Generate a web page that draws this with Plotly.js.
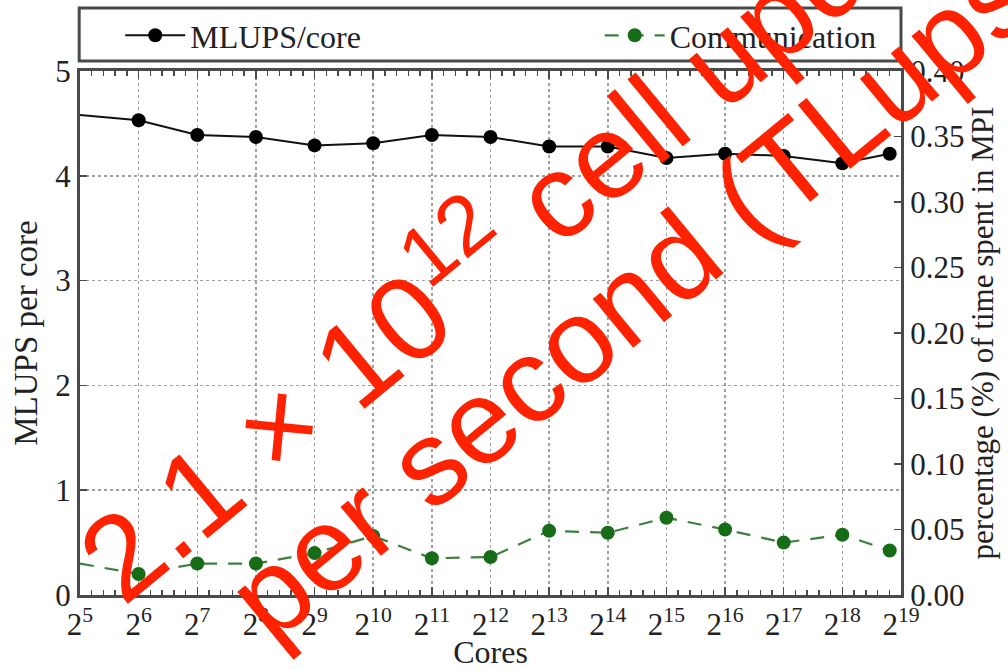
<!DOCTYPE html>
<html>
<head>
<meta charset="utf-8">
<script src="https://cdn.plot.ly/plotly-3.0.1.min.js"></script>
<style>
  html, body { margin: 0; padding: 0; background: #ffffff; }
  #chart { width: 1008px; height: 670px; }
</style>
</head>
<body>
<div id="chart"></div>
<script>
// Weak-scaling run: cores used (the last run is the full machine, 458,752 cores)
const cores = [32, 64, 128, 256, 512, 1024, 2048, 4096, 8192, 16384, 32768, 65536, 131072, 262144, 458752];
// Million lattice updates per second per core (left axis)
const mlupsPerCore = [4.58, 4.53, 4.39, 4.37, 4.29, 4.31, 4.39, 4.37, 4.28, 4.28, 4.17, 4.21, 4.19, 4.12, 4.21];
// Fraction of run time spent in MPI communication (right axis)
const commShare = [0.024, 0.016, 0.024, 0.024, 0.032, 0.045, 0.028, 0.029, 0.049, 0.0475, 0.059, 0.050, 0.040, 0.046, 0.034];
// x-axis tick exponents (powers of two)
const tickExponents = [5, 6, 7, 8, 9, 10, 11, 12, 13, 14, 15, 16, 17, 18, 19];

const seriesNames = ['MLUPS/core', 'Communication'];
const axisTitles = { x: 'Cores', y: 'MLUPS per core', y2: 'percentage (%) of time spent in MPI' };
const overlayLines = ['2.1 × 10<sup>12</sup> cell updates', 'per second (TLups)'];

const serif = 'Liberation Serif, Times New Roman, serif';
const sans = 'Liberation Sans, Arial, sans-serif';
const ink = '#222222';
const frame = '#4a4a4a';

const tickVals = tickExponents.map(e => Math.pow(2, e));
const tickText = tickExponents.map(e => '2<sup>' + e + '</sup>');
// minor ticks every fifth of an octave
const minorVals = [];
for (let e = tickExponents[0]; e < tickExponents[tickExponents.length - 1]; e++) {
  for (let k = 1; k < 5; k++) minorVals.push(Math.pow(2, e + k / 5));
}

const traces = [
  {
    x: cores, y: mlupsPerCore, name: seriesNames[0], yaxis: 'y', legend: 'legend',
    mode: 'lines+markers',
    line: { color: '#111111', width: 2 },
    marker: { color: '#000000', size: 14 },
    cliponaxis: false
  },
  {
    x: cores, y: commShare, name: seriesNames[1], yaxis: 'y2', legend: 'legend2',
    mode: 'lines+markers',
    line: { color: '#3d803d', width: 2.2, dash: '14px,11px' },
    marker: { color: '#176c17', size: 14 },
    cliponaxis: false
  }
];

// legends sit in the framed strip above the axes, positioned on the page
const legendBase = {
  orientation: 'h', yref: 'container', y: 0.947, yanchor: 'middle', xanchor: 'left',
  bgcolor: 'rgba(0,0,0,0)', borderwidth: 0,
  font: { family: serif, size: 32, color: ink },
  itemwidth: 60, itemclick: false, itemdoubleclick: false
};

const layout = {
  width: 1008, height: 670,
  margin: { l: 80, r: 107, t: 71, b: 75 },
  paper_bgcolor: '#ffffff', plot_bgcolor: '#ffffff',
  font: { family: serif, size: 30, color: ink },
  showlegend: true,
  legend: Object.assign({}, legendBase, { x: 0.049 }),
  legend2: Object.assign({}, legendBase, { x: 0.633 }),
  xaxis: {
    type: 'log',
    range: [Math.log10(32), Math.log10(524288)],
    tickmode: 'array', tickvals: tickVals, ticktext: tickText,
    tickfont: { family: serif, size: 31, color: ink },
    ticks: 'inside', ticklen: 8, tickwidth: 1.5, tickcolor: frame,
    minor: { tickmode: 'array', tickvals: minorVals, ticks: 'inside', ticklen: 5, tickwidth: 1.5, tickcolor: frame, showgrid: false },
    showline: true, linecolor: frame, linewidth: 3, mirror: 'ticks',
    showgrid: true, gridcolor: '#a0a0a0', gridwidth: 1.5, griddash: 'dot',
    zeroline: false,
    title: { text: axisTitles.x, font: { family: serif, size: 32, color: ink }, standoff: 6 },
    automargin: false
  },
  yaxis: {
    range: [0, 5], dtick: 1, tick0: 0,
    tickfont: { family: serif, size: 31, color: ink },
    ticks: 'inside', ticklen: 7, tickwidth: 1.5, tickcolor: frame,
    showline: true, linecolor: frame, linewidth: 3,
    showgrid: true, gridcolor: '#a0a0a0', gridwidth: 1.5, griddash: 'dot',
    zeroline: false,
    title: { text: axisTitles.y, font: { family: serif, size: 33, color: ink }, standoff: 8 },
    automargin: false
  },
  yaxis2: {
    overlaying: 'y', side: 'right',
    range: [0, 0.40], dtick: 0.05, tick0: 0, tickformat: '.2f',
    tickfont: { family: serif, size: 31, color: ink },
    ticks: 'inside', ticklen: 7, tickwidth: 1.5, tickcolor: frame,
    showline: true, linecolor: frame, linewidth: 3,
    showgrid: false, zeroline: false,
    title: { text: axisTitles.y2, font: { family: serif, size: 31, color: ink }, standoff: 8 },
    automargin: false
  },
  shapes: [
    // legend frame spanning the plot width above the axes
    {
      type: 'rect', xref: 'paper', yref: 'paper',
      x0: -0.001, x1: 1.0, y0: 1.019, y1: 1.1203,
      line: { color: frame, width: 3 }, fillcolor: '#ffffff', layer: 'above'
    }
  ],
  annotations: [
    {
      text: overlayLines[0], xref: 'paper', yref: 'paper', x: 0.5786, y: 0.7824,
      xanchor: 'center', yanchor: 'middle', showarrow: false, textangle: -39.5,
      font: { family: sans, size: 120, color: '#ff2200' }
    },
    {
      text: overlayLines[1], xref: 'paper', yref: 'paper', x: 0.6906, y: 0.597,
      xanchor: 'center', yanchor: 'middle', showarrow: false, textangle: -39.5,
      font: { family: sans, size: 120, color: '#ff2200' }
    }
  ]
};

Plotly.newPlot('chart', traces, layout, { staticPlot: true, displayModeBar: false });
</script>
</body>
</html>
